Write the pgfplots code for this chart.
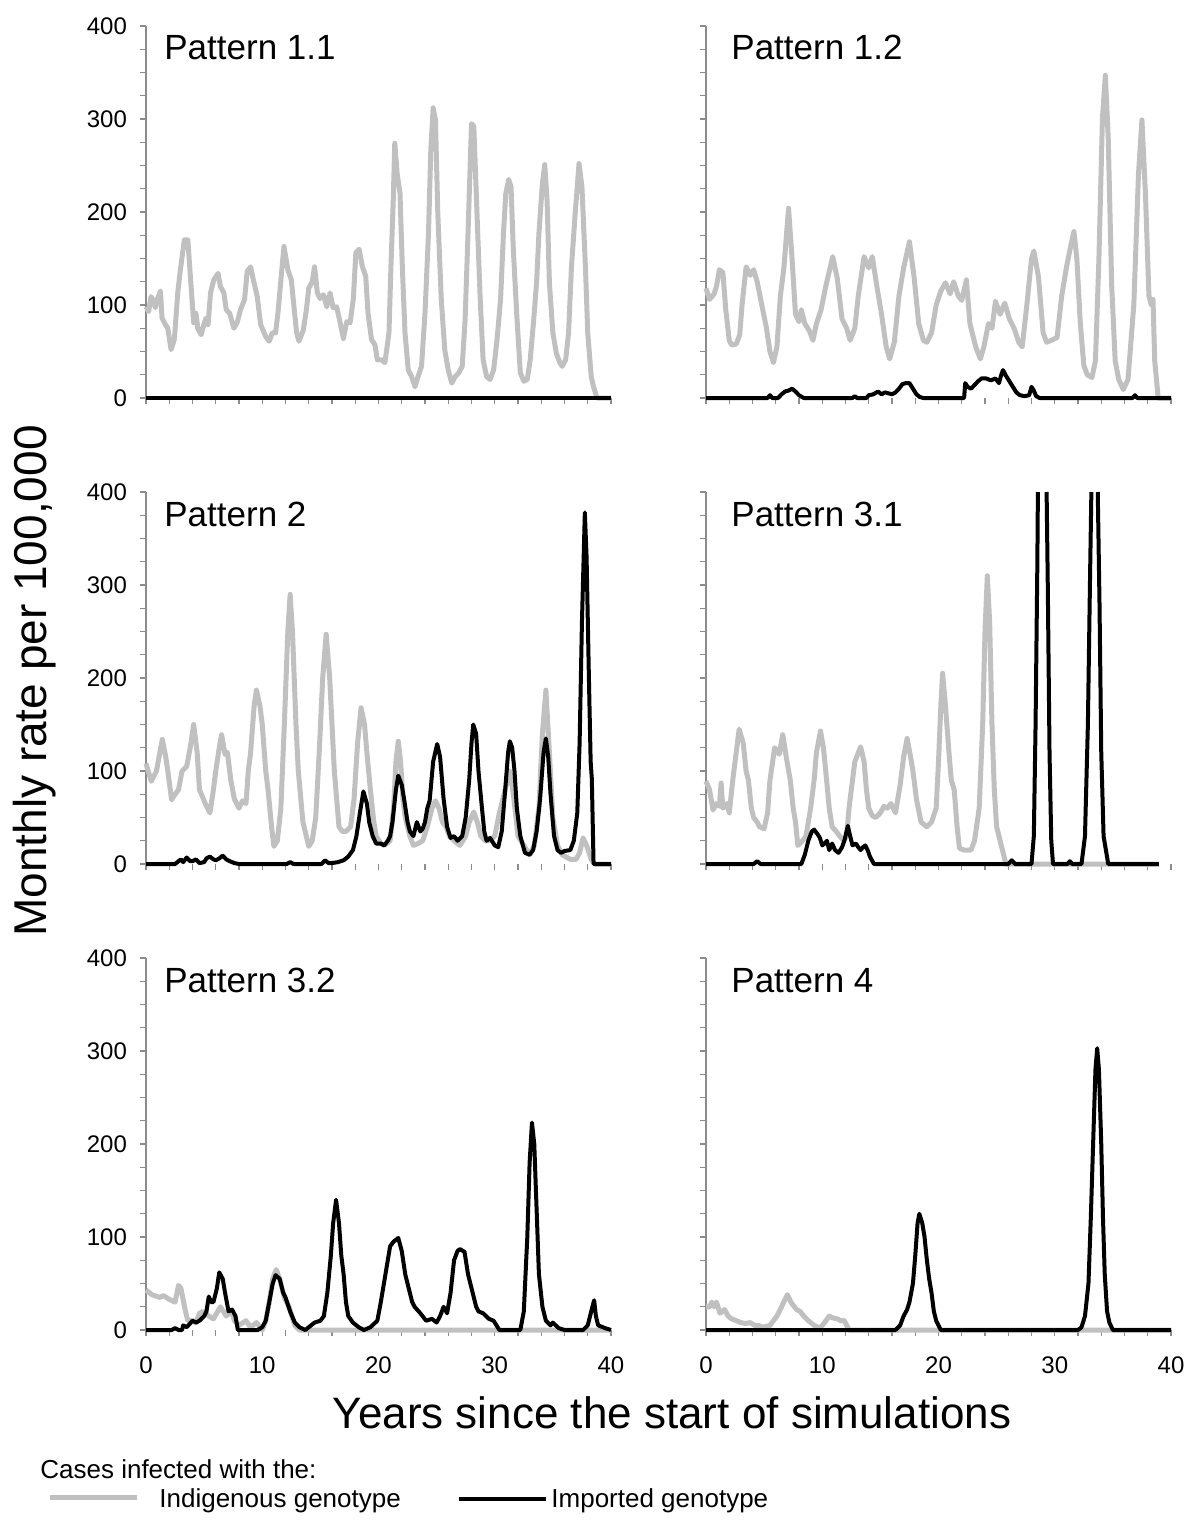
\documentclass[border=0pt]{standalone}
\usepackage{fontspec}
\setmainfont{Liberation Sans}
\usepackage{pgfplots}
\pgfplotsset{compat=1.18}

\definecolor{indig}{RGB}{192,192,192}
\definecolor{axgray}{RGB}{140,140,140}
\newcommand\tk{\fontsize{12}{14}\selectfont}

\tikzset{
  ptitle/.style={anchor=base west, inner sep=0pt, font=\fontsize{17.5}{20}\selectfont},
}
\pgfplotsset{
  panel/.style={
    scale only axis, width=232.5pt, height=186pt, anchor=south west,
    xmin=0, xmax=40, ymin=0, ymax=400,
    axis x line*=bottom, axis y line*=left,
    x axis line style={draw=none},
    y axis line style={draw=axgray, line width=0.6pt, -},
    xtick={0,10,20,30,40}, minor xtick={2,4,...,38},
    ytick={0,100,200,300,400}, minor ytick={25,50,...,375},
    tick align=outside,
    major tick length=3pt, minor tick length=3pt,
    tick style={draw=axgray, line width=0.6pt},
    xticklabels={}, yticklabels={},
    clip=false, unbounded coords=jump,
  },
  withy/.style={yticklabels={\tk 0,\tk 100,\tk 200,\tk 300,\tk 400},
    yticklabel style={xshift=-3pt}},
  withx/.style={xticklabels={\tk 0,\tk 10,\tk 20,\tk 30,\tk 40},
    xticklabel style={yshift=-7pt}},
  indigenous/.style={indig, line width=2.5pt, line join=round},
  imported/.style={black, line width=2pt, line join=round},
}

\begin{document}
\begin{tikzpicture}
\path[use as bounding box] (0,0) rectangle (600pt,-762pt);

% ---- Pattern 1.1
\begin{axis}[panel, withy, at={(73pt,-199pt)}]
\addplot[indigenous] coordinates {
(0,98)(0.23,93)(0.43,109)(0.66,104)(0.8,97)(1.0,107)(1.24,115)(1.38,86)(1.67,79)(1.87,75)(2.16,52)(2.44,63)(2.73,113)(2.96,138)(3.3,170)(3.6,170)(3.76,141)(4.1,81)(4.3,91)(4.45,75)(4.74,68)(4.97,79)(5.17,86)(5.34,79)(5.55,113)(5.83,127)(6.2,134)(6.4,120)(6.7,113)(6.9,95)(7.2,91)(7.56,75)(7.84,81)(8.13,95)(8.48,106)(8.7,136)(9.0,141)(9.2,129)(9.57,109)(9.86,79)(10.3,66)(10.6,61)(10.86,70)(11.15,70)(11.38,95)(11.58,124)(11.87,163)(12.2,138)(12.5,127)(12.73,98)(12.96,70)(13.16,61)(13.53,73)(13.8,95)(14.0,118)(14.3,125)(14.5,141)(14.74,113)(14.97,107)(15.26,111)(15.55,98)(15.83,113)(16.1,97)(16.4,98)(16.7,81)(16.98,64)(17.27,82)(17.56,81)(17.84,107)(18.05,156)(18.33,160)(18.62,141)(18.9,131)(19.1,91)(19.4,63)(19.7,57)(19.9,41)(20.26,41)(20.55,38)(20.9,70)(21.07,141)(21.27,213)(21.4,274)(21.6,242)(21.85,220)(22.05,141)(22.28,70)(22.56,30)(22.85,23)(23.14,12)(23.4,23)(23.7,34)(24.0,91)(24.3,177)(24.5,267)(24.7,312)(24.9,299)(25.1,199)(25.4,106)(25.7,52)(26.0,30)(26.3,16)(26.6,23)(26.9,27)(27.2,34)(27.45,84)(27.7,177)(28.0,295)(28.2,292)(28.45,206)(28.75,106)(29.0,41)(29.3,23)(29.6,20)(29.9,30)(30.2,63)(30.5,106)(30.75,177)(30.95,220)(31.2,235)(31.4,227)(31.6,159)(31.9,88)(32.2,27)(32.5,18)(32.8,20)(33.05,41)(33.35,84)(33.6,124)(33.8,177)(34.1,231)(34.3,251)(34.5,213)(34.7,124)(35.0,70)(35.3,48)(35.6,38)(35.8,34)(36.1,41)(36.35,70)(36.6,141)(36.9,195)(37.25,252)(37.5,227)(37.8,141)(38.0,70)(38.3,23)(38.5,12)(38.8,0)(40,0)
};
\addplot[imported] coordinates {(0,0)(40,0)};
\node[ptitle, xshift=9pt, yshift=-17pt] at (rel axis cs:0,1) {Pattern 1.1};
\end{axis}

% ---- Pattern 1.2
\begin{axis}[panel, at={(353pt,-199pt)}]
\addplot[indigenous] coordinates {
(0,118)(0.3,106)(0.7,112)(0.9,120)(1.15,138)(1.45,135)(1.7,95)(2.0,62)(2.2,57)(2.6,58)(2.9,68)(3.1,100)(3.45,141)(3.8,132)(4.1,138)(4.4,125)(4.8,100)(5.2,75)(5.5,50)(5.8,38)(6.1,55)(6.4,110)(6.7,140)(7.1,204)(7.4,150)(7.7,90)(8.0,82)(8.2,95)(8.5,80)(8.9,72)(9.2,62)(9.5,80)(9.9,95)(10.3,120)(10.9,152)(11.3,128)(11.7,85)(12.1,75)(12.4,62)(12.8,75)(13.1,110)(13.6,152)(14.0,140)(14.3,152)(14.7,120)(15.1,90)(15.5,55)(15.8,42)(16.2,60)(16.6,110)(17.0,140)(17.5,168)(17.9,130)(18.3,80)(18.7,62)(19.0,60)(19.4,70)(19.8,100)(20.2,115)(20.6,124)(21.0,112)(21.3,125)(21.7,110)(22.0,105)(22.4,127)(22.7,80)(23.2,55)(23.6,42)(23.9,55)(24.3,80)(24.6,75)(24.9,104)(25.3,90)(25.7,102)(26.1,85)(26.5,75)(26.9,60)(27.2,55)(27.6,100)(28.0,150)(28.2,158)(28.6,130)(29.0,70)(29.3,60)(29.7,62)(30.2,65)(30.6,110)(31.0,140)(31.4,165)(31.65,179)(31.9,150)(32.2,80)(32.5,35)(32.8,25)(33.2,22)(33.5,40)(33.8,150)(34.1,300)(34.35,347)(34.6,280)(34.9,120)(35.2,40)(35.5,20)(35.9,9)(36.3,20)(36.8,100)(37.2,240)(37.5,299)(37.8,220)(38.1,110)(38.3,100)(38.45,106)(38.6,40)(38.9,0)(40,0)
};
\addplot[imported] coordinates {
(0,0)(5.3,0)(5.5,3)(5.7,0)(6.2,0)(6.5,4)(6.8,7)(7.1,8)(7.4,10)(7.7,7)(8.0,3)(8.4,0)(12.6,0)(12.8,2)(13.0,0)(13.8,0)(14.0,3)(14.4,4)(14.8,7)(15.1,4)(15.4,6)(15.7,5)(16.0,4)(16.3,6)(16.6,10)(16.9,15)(17.2,16)(17.5,16)(17.8,10)(18.1,4)(18.4,1)(18.7,0)(22.2,0)(22.3,16)(22.5,12)(22.8,10)(23.1,14)(23.4,18)(23.7,21)(24.1,21)(24.5,19)(24.9,21)(25.2,16)(25.4,25)(25.55,30)(25.8,24)(26.1,18)(26.4,12)(26.7,6)(27.0,3)(27.4,2)(27.8,3)(28.0,12)(28.2,8)(28.4,2)(28.7,0)(36.7,0)(36.9,3)(37.1,0)(40,0)
};
\node[ptitle, xshift=12.5pt, yshift=-17pt] at (rel axis cs:0,1) {Pattern 1.2};
\end{axis}

% ---- Pattern 2
\begin{axis}[panel, withy, at={(73pt,-432pt)}]
\addplot[indigenous] coordinates {
(0,108)(0.45,89)(0.9,100)(1.4,134)(1.7,115)(1.9,98)(2.2,69)(2.5,75)(2.8,80)(3.1,100)(3.5,105)(3.8,125)(4.1,150)(4.4,120)(4.6,80)(5.1,65)(5.5,55)(5.8,80)(6.0,100)(6.3,125)(6.5,139)(6.8,118)(7.0,120)(7.3,90)(7.6,70)(8.0,60)(8.3,68)(8.6,65)(8.8,100)(9.0,120)(9.3,170)(9.5,187)(9.8,170)(10.0,150)(10.3,100)(10.5,80)(10.8,40)(11.0,19)(11.3,25)(11.6,60)(11.9,150)(12.2,250)(12.4,290)(12.6,250)(12.9,150)(13.1,100)(13.5,45)(14.0,19)(14.3,25)(14.6,50)(14.9,120)(15.2,200)(15.5,247)(15.8,200)(16.0,150)(16.2,100)(16.6,40)(16.9,35)(17.2,35)(17.6,40)(17.9,70)(18.2,130)(18.5,168)(18.8,150)(19.0,120)(19.3,80)(19.6,45)(19.8,30)(20.2,22)(20.5,20)(21.0,25)(21.3,60)(21.5,110)(21.7,132)(21.9,110)(22.1,70)(22.3,50)(22.7,30)(23.0,20)(23.4,22)(23.8,25)(24.2,40)(24.6,60)(24.9,68)(25.2,60)(25.5,45)(25.8,40)(26.1,30)(26.5,25)(27.0,20)(27.5,30)(27.8,45)(28.2,56)(28.5,45)(28.8,30)(29.2,25)(29.5,25)(30.0,30)(30.4,55)(30.9,80)(31.3,100)(31.6,75)(32.0,30)(32.5,20)(33.0,10)(33.4,20)(33.8,60)(34.1,140)(34.4,187)(34.7,120)(35.0,50)(35.4,20)(35.8,10)(36.5,5)(37.0,5)(37.3,12)(37.6,28)(37.9,20)(38.3,5)(38.6,0)(40,0)
};
\addplot[imported] coordinates {
(0,0)(2.5,0)(2.8,3)(3.0,5)(3.2,2)(3.5,7)(3.8,3)(4.0,3)(4.3,5)(4.6,1)(5.0,2)(5.2,6)(5.5,8)(5.8,5)(6.0,4)(6.3,6)(6.6,9)(6.9,5)(7.2,3)(7.6,1)(8.0,0)(12.1,0)(12.4,2)(12.7,0)(15.1,0)(15.4,4)(15.7,1)(16.0,1)(16.5,2)(17.0,4)(17.4,8)(17.8,15)(18.1,30)(18.4,55)(18.7,78)(19.0,65)(19.2,45)(19.5,30)(19.8,22)(20.2,22)(20.5,20)(20.8,25)(21.0,30)(21.2,45)(21.5,80)(21.7,95)(22.0,85)(22.2,70)(22.5,45)(22.7,35)(23.0,30)(23.3,45)(23.6,35)(23.8,38)(24.0,45)(24.2,60)(24.4,68)(24.7,110)(25.05,129)(25.3,115)(25.6,70)(25.9,40)(26.2,28)(26.5,30)(26.8,25)(27.2,30)(27.5,50)(27.8,90)(28.0,130)(28.15,150)(28.4,140)(28.6,100)(28.9,60)(29.1,35)(29.3,25)(29.6,28)(30.0,20)(30.3,18)(30.6,35)(30.9,80)(31.15,120)(31.3,132)(31.5,125)(31.7,100)(31.9,60)(32.2,30)(32.6,12)(33.0,10)(33.3,15)(33.6,35)(33.9,70)(34.2,120)(34.4,135)(34.6,115)(34.8,75)(35.1,30)(35.4,15)(35.7,12)(36.0,14)(36.5,15)(36.8,25)(37.1,55)(37.3,130)(37.5,260)(37.75,378)(37.9,330)(38.1,200)(38.25,110)(38.35,92)(38.5,0)(40,0)
};
\node[ptitle, xshift=9pt, yshift=-17pt] at (rel axis cs:0,1) {Pattern 2};
\end{axis}

% ---- Pattern 3.1
\begin{axis}[panel, at={(353pt,-432pt)}]
\addplot[indigenous] coordinates {
(0,89)(0.3,80)(0.6,58)(0.9,65)(1.15,62)(1.3,87)(1.45,60)(1.8,65)(2.0,55)(2.3,90)(2.6,120)(2.85,145)(3.2,130)(3.45,100)(3.65,90)(3.9,60)(4.1,50)(4.4,45)(4.6,40)(5.0,38)(5.3,55)(5.5,90)(5.9,125)(6.3,118)(6.6,139)(6.9,115)(7.25,90)(7.5,60)(7.7,45)(7.9,20)(8.3,25)(8.6,30)(9.0,60)(9.3,90)(9.5,120)(9.85,143)(10.1,125)(10.3,100)(10.6,60)(10.85,40)(11.2,35)(11.5,30)(11.85,25)(12.1,30)(12.3,60)(12.5,80)(12.8,110)(13.3,126)(13.6,110)(13.8,80)(14.0,60)(14.3,52)(14.6,50)(15.0,55)(15.3,62)(15.6,60)(15.9,65)(16.3,55)(16.5,70)(16.7,85)(17.0,115)(17.3,135)(17.6,115)(17.8,100)(18.1,70)(18.5,45)(19.0,40)(19.4,45)(19.8,60)(20.0,110)(20.2,170)(20.35,205)(20.6,170)(20.9,120)(21.1,90)(21.35,80)(21.6,40)(21.8,17)(22.2,15)(22.8,15)(23.1,25)(23.5,60)(23.8,150)(24.0,250)(24.2,310)(24.4,260)(24.6,150)(24.8,80)(25.0,40)(25.2,30)(25.5,15)(25.8,0)(38.95,0)
};
\addplot[imported] coordinates {
(0,0)(4.1,0)(4.4,3)(4.7,0)(8.2,0)(8.5,10)(8.8,25)(9.1,35)(9.3,37)(9.6,32)(9.8,28)(10.0,20)(10.2,22)(10.4,25)(10.6,15)(10.85,22)(11.1,15)(11.4,12)(11.7,18)(11.9,25)(12.2,41)(12.4,30)(12.6,20)(12.9,22)(13.1,18)(13.3,15)(13.5,18)(13.7,20)(13.9,15)(14.1,8)(14.45,0)(26.0,0)(26.3,4)(26.6,0)(28.0,0)(28.2,30)(28.35,150)(28.5,320)(28.55,400)(28.9,nan)(29.3,400)(29.4,300)(29.55,120)(29.7,25)(29.85,0)(31.1,0)(31.3,3)(31.5,0)(32.3,0)(32.6,30)(32.85,150)(33.05,320)(33.15,400)(33.4,nan)(33.7,400)(33.85,280)(34.0,120)(34.2,30)(34.6,0)(38.95,0)
};
\node[ptitle, xshift=12.5pt, yshift=-17pt] at (rel axis cs:0,1) {Pattern 3.1};
\end{axis}

% ---- Pattern 3.2
\begin{axis}[panel, withy, withx, at={(73pt,-665pt)}]
\addplot[indigenous] coordinates {
(0,43)(0.5,38)(1.2,35)(1.5,37)(2.0,33)(2.5,30)(2.8,48)(3.0,45)(3.4,20)(3.6,10)(4.0,10)(4.3,8)(4.6,18)(4.9,20)(5.4,15)(5.8,12)(6.4,25)(6.9,15)(7.4,20)(7.6,10)(8.0,5)(8.6,10)(9.0,3)(9.5,8)(10.0,0)(10.3,10)(10.6,30)(10.9,55)(11.2,65)(11.5,55)(11.9,35)(12.3,25)(12.8,5)(13.2,0)(40,0)
};
\addplot[imported] coordinates {
(0,0)(2.2,0)(2.5,2)(2.8,0)(3.1,0)(3.2,5)(3.5,3)(4.0,10)(4.3,8)(4.6,10)(5.0,15)(5.2,20)(5.4,36)(5.6,30)(5.8,30)(6.1,45)(6.3,62)(6.6,55)(6.8,40)(7.1,20)(7.4,22)(7.7,15)(7.9,0)(9.6,0)(10.0,3)(10.3,10)(10.6,30)(10.9,50)(11.15,59)(11.5,55)(11.8,40)(12.0,35)(12.4,20)(12.8,8)(13.2,3)(13.7,0)(14.0,3)(14.5,8)(15.0,10)(15.3,15)(15.6,40)(15.9,80)(16.1,115)(16.35,140)(16.6,115)(16.8,80)(17.0,60)(17.2,30)(17.4,15)(17.8,8)(18.3,3)(18.75,0)(19.3,3)(19.9,10)(20.2,30)(20.6,60)(21.0,90)(21.3,95)(21.7,99)(22.0,85)(22.3,60)(22.6,45)(22.9,30)(23.1,25)(23.6,18)(24.1,10)(24.6,12)(25.0,8)(25.3,15)(25.6,25)(25.9,18)(26.2,40)(26.5,75)(26.8,85)(27.0,87)(27.4,84)(27.7,60)(28.1,40)(28.4,25)(28.6,20)(29.0,18)(29.5,12)(29.9,10)(30.4,0)(32.2,0)(32.5,20)(32.8,100)(33.0,180)(33.2,223)(33.4,200)(33.6,130)(33.8,60)(34.1,25)(34.4,10)(34.8,5)(35.0,8)(35.5,2)(36.0,0)(37.6,0)(38.0,5)(38.2,15)(38.4,25)(38.55,32)(38.7,15)(38.9,5)(39.5,2)(40,0)
};
\node[ptitle, xshift=9pt, yshift=-17pt] at (rel axis cs:0,1) {Pattern 3.2};
\end{axis}

% ---- Pattern 4
\begin{axis}[panel, withx, at={(353pt,-665pt)}]
\addplot[indigenous] coordinates {
(0,25)(0.3,25)(0.5,30)(0.7,25)(0.9,30)(1.2,18)(1.6,22)(1.9,15)(2.2,12)(2.6,10)(3.0,8)(3.4,7)(3.8,8)(4.2,5)(4.5,5)(4.9,3)(5.5,5)(5.8,10)(6.1,15)(6.5,25)(6.8,33)(7.0,38)(7.3,30)(7.6,25)(7.8,22)(8.1,20)(8.4,15)(8.8,10)(9.3,5)(9.8,2)(10.2,8)(10.6,15)(10.9,13)(11.3,12)(11.6,10)(11.9,10)(12.3,0)(40,0)
};
\addplot[imported] coordinates {
(0,0)(16.3,0)(16.7,5)(17.0,15)(17.3,22)(17.5,30)(17.8,50)(18.0,80)(18.2,115)(18.35,125)(18.6,115)(18.8,100)(19.0,75)(19.2,55)(19.4,40)(19.6,20)(19.8,10)(20.2,0)(32.0,0)(32.3,3)(32.6,15)(32.9,50)(33.1,120)(33.3,200)(33.5,280)(33.65,303)(33.8,280)(34.0,200)(34.15,120)(34.3,60)(34.5,20)(34.7,8)(35.0,0)(40,0)
};
\node[ptitle, xshift=12.5pt, yshift=-17pt] at (rel axis cs:0,1) {Pattern 4};
\end{axis}

% ---- shared titles and key
\node[rotate=90, anchor=base, font=\fontsize{23}{27}\selectfont] at (23pt,-340.5pt) {Monthly rate per 100,000};
\node[anchor=base, font=\fontsize{22}{26}\selectfont] at (336pt,-714pt) {Years since the start of simulations};
\node[anchor=base west, inner sep=0pt, font=\fontsize{13}{15}\selectfont] at (20pt,-739pt) {Cases infected with the:};
\draw[indig, line width=2.5pt] (25pt,-748.5pt) -- (68.5pt,-748.5pt);
\node[anchor=base west, inner sep=0pt, font=\fontsize{13}{15}\selectfont] at (79.5pt,-753.5pt) {Indigenous genotype};
\draw[black, line width=2pt] (229.5pt,-749.5pt) -- (273pt,-749.5pt);
\node[anchor=base west, inner sep=0pt, font=\fontsize{13}{15}\selectfont] at (275.5pt,-753.5pt) {Imported genotype};
\end{tikzpicture}
\end{document}
